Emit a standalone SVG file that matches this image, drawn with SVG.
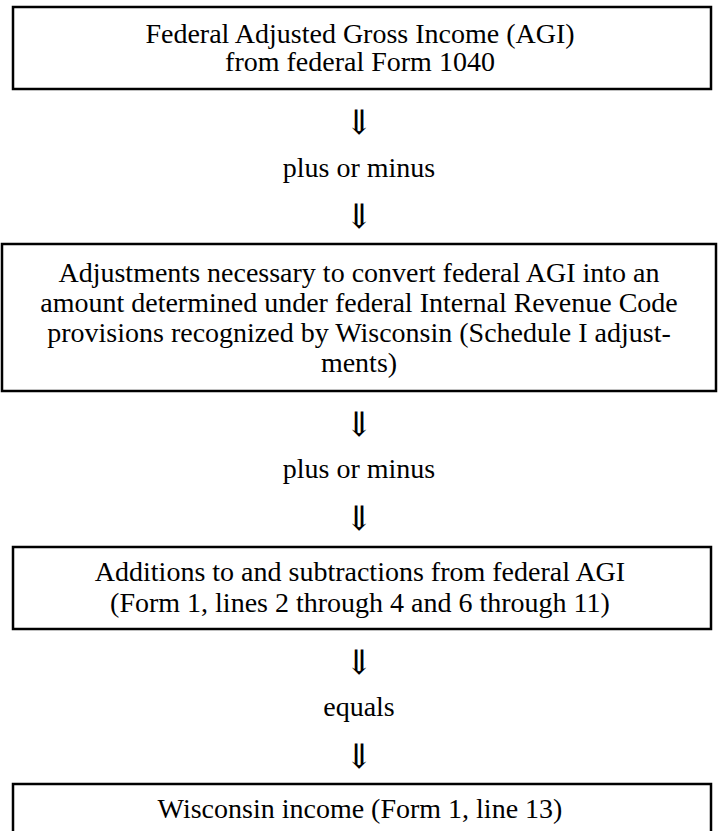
<svg xmlns="http://www.w3.org/2000/svg" width="718" height="831" viewBox="0 0 718 831">
<style>
.box{fill:#fff;stroke:#000;stroke-width:2.5}
.t{font-family:"Liberation Serif","Times New Roman",serif;font-size:28px;fill:#000;text-anchor:middle}
.arr{font-family:"DejaVu Sans","DejaVu Serif",sans-serif;font-weight:200;font-size:34px;fill:#000;text-anchor:middle}
</style>
<rect width="718" height="831" fill="#fff"/>
<g id="n1">
<rect class="box" x="13" y="7" width="698" height="82"/>
<text class="t" x="360" y="43">Federal Adjusted Gross Income (AGI)</text>
<text class="t" x="360" y="71">from federal Form 1040</text>
</g>
<g id="n2">
<rect class="box" x="2" y="244" width="714" height="147"/>
<text class="t" x="359" y="282">Adjustments necessary to convert federal AGI into an</text>
<text class="t" x="359" y="312">amount determined under federal Internal Revenue Code</text>
<text class="t" x="359" y="342">provisions recognized by Wisconsin (Schedule I adjust-</text>
<text class="t" x="359" y="372">ments)</text>
</g>
<g id="n3">
<rect class="box" x="13" y="547" width="698" height="82"/>
<text class="t" x="360" y="581">Additions to and subtractions from federal AGI</text>
<text class="t" x="360" y="612">(Form 1, lines 2 through 4 and 6 through 11)</text>
</g>
<g id="n4">
<rect class="box" x="13" y="784" width="698" height="52"/>
<text class="t" x="360" y="818">Wisconsin income (Form 1, line 13)</text>
</g>
<g id="connectors">
<text class="arr" x="359" y="134">⇓</text>
<text class="t" x="359" y="177">plus or minus</text>
<text class="arr" x="359" y="228">⇓</text>
<text class="arr" x="359" y="436">⇓</text>
<text class="t" x="359" y="478">plus or minus</text>
<text class="arr" x="359" y="530">⇓</text>
<text class="arr" x="359" y="674">⇓</text>
<text class="t" x="359" y="716">equals</text>
<text class="arr" x="359" y="768">⇓</text>
</g>
</svg>
